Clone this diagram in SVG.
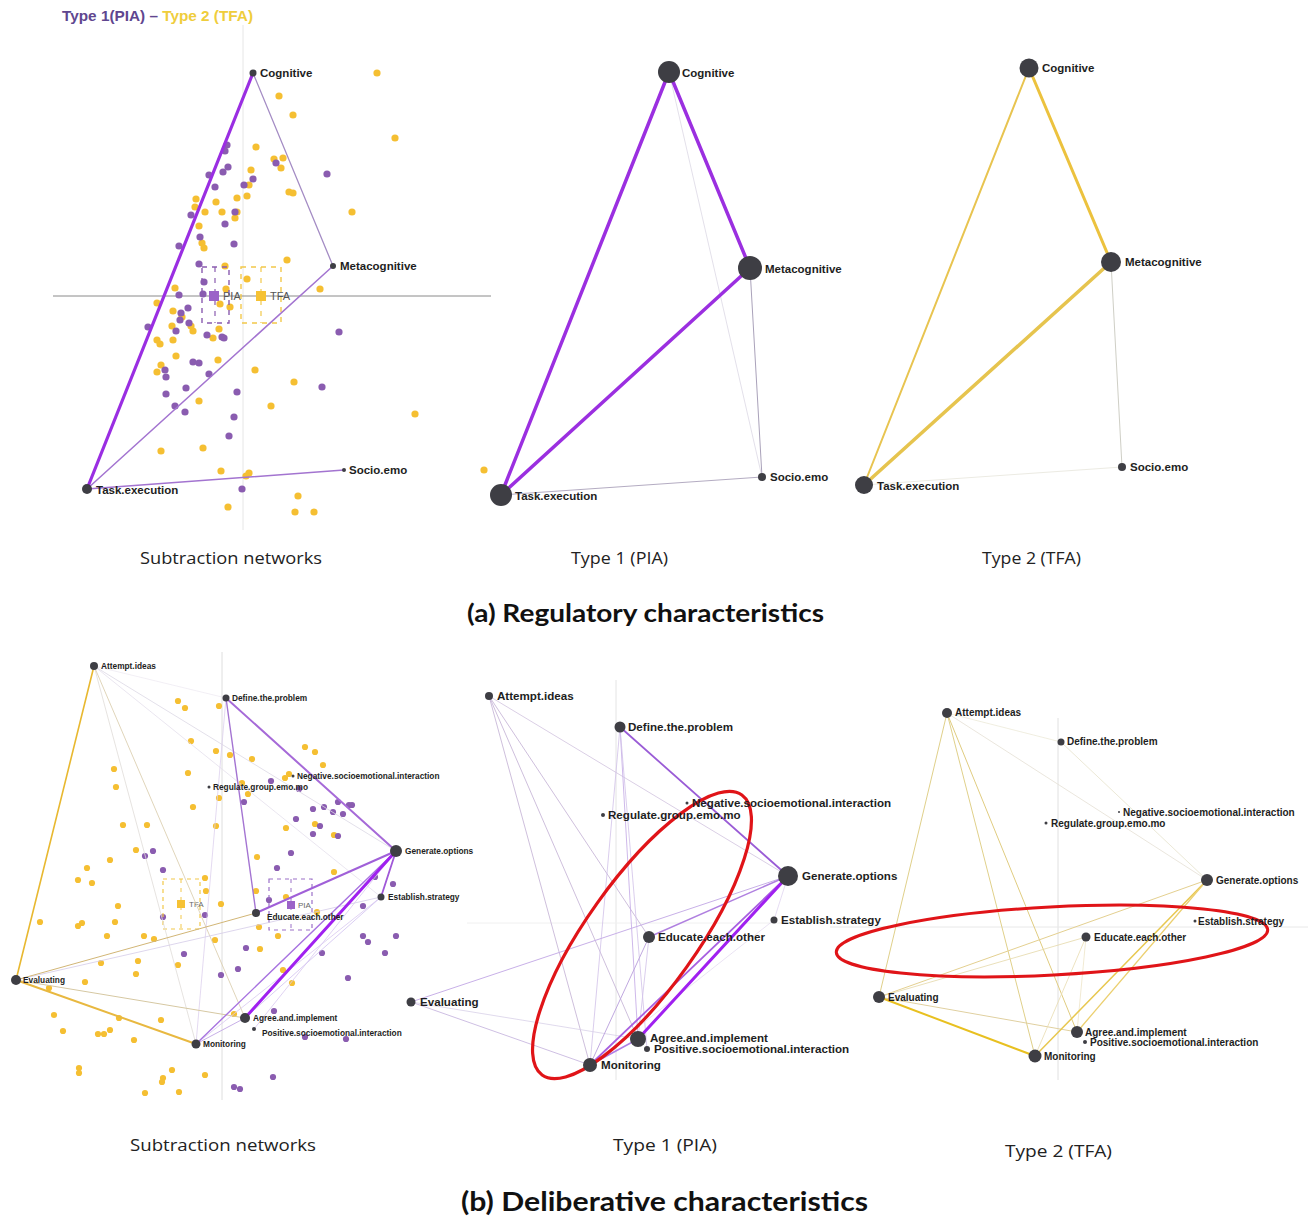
<svg xmlns="http://www.w3.org/2000/svg" width="1308" height="1220" viewBox="0 0 1308 1220">
<style>
.n{fill:#3e3e44}
.l{font-family:"Liberation Sans",Arial,sans-serif;font-weight:bold;fill:#1e1e22}
.la{font-size:11.5px}
.lb{font-size:8.3px}
.lc{font-size:11.6px}
.ld{font-size:10px}
.cap{font-family:"Open Sans","Liberation Sans",sans-serif;fill:#222;font-size:17px}
.ttl{font-family:"Lato","Open Sans",sans-serif;font-weight:bold;fill:#111}
.py{fill:#f5bf32}
.pp{fill:#8a5cb0}
.ax{stroke-width:1;fill:none}
.e{fill:none;stroke-linecap:round}
.red{fill:none;stroke:#e01418}
</style>
<rect width="1308" height="1220" fill="#ffffff"/>

<!-- legend -->
<text x="62" y="21" font-family="Liberation Sans,Arial,sans-serif" font-weight="bold" font-size="15.5" fill="#60468f" textLength="191" lengthAdjust="spacingAndGlyphs">Type 1(PIA) – <tspan fill="#efcd3c">Type 2 (TFA)</tspan></text>

<!-- axes -->
<g id="axes">
<line class="ax" x1="243" y1="25" x2="243" y2="530" stroke="#e6e6e6"/>
<line class="ax" x1="53" y1="296" x2="491" y2="296" stroke="#8a8a8a"/>
<line class="ax" x1="222" y1="652" x2="222" y2="1100" stroke="#dedede"/>
<line class="ax" x1="616" y1="680" x2="616" y2="1080" stroke="#e4e4e4"/>
<line class="ax" x1="467" y1="923" x2="790" y2="923" stroke="#f0f0f0"/>
<line class="ax" x1="1058" y1="718" x2="1058" y2="1080" stroke="#e0e0e0"/>
<line class="ax" x1="830" y1="927" x2="1308" y2="927" stroke="#e8e8e8"/>
</g>

<!-- scatter points (a) -->
<g id="points-a">
<g class="py">
<circle cx="377" cy="73" r="3.6"/><circle cx="279" cy="96" r="3.6"/><circle cx="293" cy="115" r="3.6"/><circle cx="395" cy="138" r="3.6"/><circle cx="256" cy="147" r="3.6"/><circle cx="283" cy="158" r="3.6"/><circle cx="274" cy="159" r="3.6"/><circle cx="281" cy="168" r="3.6"/><circle cx="251" cy="170" r="3.6"/><circle cx="249" cy="185" r="3.6"/><circle cx="247" cy="196" r="3.6"/><circle cx="237" cy="198" r="3.6"/><circle cx="289" cy="192" r="3.6"/><circle cx="293" cy="193" r="3.6"/><circle cx="196" cy="199" r="3.6"/><circle cx="216" cy="202" r="3.6"/><circle cx="195" cy="207" r="3.6"/><circle cx="205" cy="212" r="3.6"/><circle cx="222" cy="212" r="3.6"/><circle cx="237" cy="212" r="3.6"/><circle cx="235" cy="218" r="3.6"/><circle cx="352" cy="212" r="3.6"/><circle cx="199" cy="226" r="3.6"/><circle cx="202" cy="243" r="3.6"/><circle cx="204" cy="248" r="3.6"/><circle cx="287" cy="260" r="3.6"/><circle cx="225" cy="266" r="3.6"/><circle cx="247" cy="279" r="3.6"/><circle cx="320" cy="289" r="3.6"/><circle cx="175" cy="288" r="3.6"/><circle cx="226" cy="289" r="3.6"/><circle cx="220" cy="304" r="3.6"/><circle cx="230" cy="307" r="3.6"/><circle cx="157" cy="303" r="3.6"/><circle cx="173" cy="311" r="3.6"/><circle cx="182" cy="317" r="3.6"/><circle cx="172" cy="326" r="3.6"/><circle cx="191" cy="326" r="3.6"/><circle cx="193" cy="331" r="3.6"/><circle cx="219" cy="329" r="3.6"/><circle cx="213" cy="338" r="3.6"/><circle cx="157" cy="340" r="3.6"/><circle cx="160" cy="344" r="3.6"/><circle cx="173" cy="340" r="3.6"/><circle cx="176" cy="356" r="3.6"/><circle cx="218" cy="360" r="3.6"/><circle cx="161" cy="365" r="3.6"/><circle cx="157" cy="372" r="3.6"/><circle cx="255" cy="370" r="3.6"/><circle cx="294" cy="382" r="3.6"/><circle cx="199" cy="401" r="3.6"/><circle cx="271" cy="406" r="3.6"/><circle cx="415" cy="414" r="3.6"/><circle cx="161" cy="451" r="3.6"/><circle cx="203" cy="448" r="3.6"/><circle cx="221" cy="471" r="3.6"/><circle cx="249" cy="473" r="3.6"/><circle cx="246" cy="476" r="3.6"/><circle cx="484" cy="470" r="3.6"/><circle cx="298" cy="496" r="3.6"/><circle cx="228" cy="507" r="3.6"/><circle cx="295" cy="512" r="3.6"/><circle cx="314" cy="512" r="3.6"/>
</g>
<g class="pp">
<circle cx="227" cy="145" r="3.6"/><circle cx="225" cy="151" r="3.6"/><circle cx="228" cy="167" r="3.6"/><circle cx="223" cy="172" r="3.6"/><circle cx="209" cy="175" r="3.6"/><circle cx="276" cy="163" r="3.6"/><circle cx="327" cy="174" r="3.6"/><circle cx="253" cy="179" r="3.6"/><circle cx="244" cy="185" r="3.6"/><circle cx="215" cy="187" r="3.6"/><circle cx="235" cy="212" r="3.6"/><circle cx="191" cy="215" r="3.6"/><circle cx="225" cy="224" r="3.6"/><circle cx="200" cy="237" r="3.6"/><circle cx="234" cy="244" r="3.6"/><circle cx="179" cy="246" r="3.6"/><circle cx="199" cy="264" r="3.6"/><circle cx="204" cy="282" r="3.6"/><circle cx="179" cy="295" r="3.6"/><circle cx="203" cy="294" r="3.6"/><circle cx="188" cy="308" r="3.6"/><circle cx="181" cy="313" r="3.6"/><circle cx="180" cy="320" r="3.6"/><circle cx="189" cy="323" r="3.6"/><circle cx="148" cy="327" r="3.6"/><circle cx="176" cy="331" r="3.6"/><circle cx="207" cy="335" r="3.6"/><circle cx="222" cy="337" r="3.6"/><circle cx="224" cy="338" r="3.6"/><circle cx="339" cy="332" r="3.6"/><circle cx="193" cy="362" r="3.6"/><circle cx="199" cy="363" r="3.6"/><circle cx="165" cy="370" r="3.6"/><circle cx="166" cy="377" r="3.6"/><circle cx="209" cy="374" r="3.6"/><circle cx="186" cy="388" r="3.6"/><circle cx="322" cy="387" r="3.6"/><circle cx="166" cy="394" r="3.6"/><circle cx="237" cy="392" r="3.6"/><circle cx="175" cy="406" r="3.6"/><circle cx="185" cy="412" r="3.6"/><circle cx="234" cy="417" r="3.6"/><circle cx="229" cy="436" r="3.6"/><circle cx="242" cy="489" r="3.6"/>
</g>
<g id="means-a">
<rect x="202" y="267" width="27" height="56" fill="none" stroke="#8a5cb0" stroke-width="1.4" stroke-dasharray="5 5"/>
<line x1="215" y1="267" x2="215" y2="323" stroke="#8a5cb0" stroke-width="1.2" stroke-dasharray="5 6"/>
<rect x="209" y="291" width="10" height="10" fill="#9b63c8"/>
<text x="223" y="300" font-family="Liberation Sans,Arial,sans-serif" font-size="11" fill="#555">PIA</text>
<rect x="241" y="267" width="40" height="56" fill="none" stroke="#f2c84a" stroke-width="1.4" stroke-dasharray="5 5"/>
<line x1="261" y1="267" x2="261" y2="323" stroke="#f2c84a" stroke-width="1.2" stroke-dasharray="5 6"/>
<rect x="256" y="291" width="10" height="10" fill="#f6c234"/>
<text x="270" y="300" font-family="Liberation Sans,Arial,sans-serif" font-size="11" fill="#555">TFA</text>
</g>
</g>

<!-- scatter points (b) -->
<g id="points-b">
<g class="py">
<circle cx="178" cy="701" r="3.1"/><circle cx="185" cy="708" r="3.1"/><circle cx="219" cy="706" r="3.1"/><circle cx="191" cy="741" r="3.1"/><circle cx="216" cy="751" r="3.1"/><circle cx="230" cy="755" r="3.1"/><circle cx="252" cy="759" r="3.1"/><circle cx="305" cy="747" r="3.1"/><circle cx="315" cy="752" r="3.1"/><circle cx="323" cy="765" r="3.1"/><circle cx="114" cy="769" r="3.1"/><circle cx="116" cy="787" r="3.1"/><circle cx="188" cy="773" r="3.1"/><circle cx="285" cy="778" r="3.1"/><circle cx="289" cy="774" r="3.1"/><circle cx="242" cy="783" r="3.1"/><circle cx="248" cy="794" r="3.1"/><circle cx="219" cy="798" r="3.1"/><circle cx="193" cy="807" r="3.1"/><circle cx="123" cy="825" r="3.1"/><circle cx="147" cy="825" r="3.1"/><circle cx="216" cy="826" r="3.1"/><circle cx="286" cy="828" r="3.1"/><circle cx="315" cy="824" r="3.1"/><circle cx="334" cy="835" r="3.1"/><circle cx="136" cy="850" r="3.1"/><circle cx="110" cy="860" r="3.1"/><circle cx="87" cy="868" r="3.1"/><circle cx="78" cy="880" r="3.1"/><circle cx="92" cy="883" r="3.1"/><circle cx="257" cy="857" r="3.1"/><circle cx="334" cy="872" r="3.1"/><circle cx="205" cy="878" r="3.1"/><circle cx="206" cy="891" r="3.1"/><circle cx="221" cy="904" r="3.1"/><circle cx="256" cy="891" r="3.1"/><circle cx="286" cy="897" r="3.1"/><circle cx="118" cy="906" r="3.1"/><circle cx="40" cy="922" r="3.1"/><circle cx="78" cy="926" r="3.1"/><circle cx="82" cy="923" r="3.1"/><circle cx="115" cy="922" r="3.1"/><circle cx="259" cy="927" r="3.1"/><circle cx="107" cy="936" r="3.1"/><circle cx="144" cy="936" r="3.1"/><circle cx="154" cy="939" r="3.1"/><circle cx="215" cy="940" r="3.1"/><circle cx="260" cy="949" r="3.1"/><circle cx="278" cy="936" r="3.1"/><circle cx="317" cy="912" r="3.1"/><circle cx="101" cy="963" r="3.1"/><circle cx="138" cy="961" r="3.1"/><circle cx="178" cy="965" r="3.1"/><circle cx="136" cy="974" r="3.1"/><circle cx="85" cy="982" r="3.1"/><circle cx="283" cy="970" r="3.1"/><circle cx="292" cy="983" r="3.1"/><circle cx="49" cy="988" r="3.1"/><circle cx="54" cy="1015" r="3.1"/><circle cx="119" cy="1018" r="3.1"/><circle cx="161" cy="1020" r="3.1"/><circle cx="234" cy="1014" r="3.1"/><circle cx="63" cy="1031" r="3.1"/><circle cx="98" cy="1034" r="3.1"/><circle cx="104" cy="1034" r="3.1"/><circle cx="110" cy="1030" r="3.1"/><circle cx="134" cy="1040" r="3.1"/><circle cx="79" cy="1068" r="3.1"/><circle cx="79" cy="1073" r="3.1"/><circle cx="172" cy="1070" r="3.1"/><circle cx="163" cy="1078" r="3.1"/><circle cx="162" cy="1082" r="3.1"/><circle cx="205" cy="1075" r="3.1"/><circle cx="145" cy="1093" r="3.1"/><circle cx="179" cy="1092" r="3.1"/>
</g>
<g class="pp">
<circle cx="271" cy="781" r="3.1"/><circle cx="299" cy="789" r="3.1"/><circle cx="244" cy="802" r="3.1"/><circle cx="313" cy="809" r="3.1"/><circle cx="324" cy="807" r="3.1"/><circle cx="338" cy="802" r="3.1"/><circle cx="333" cy="812" r="3.1"/><circle cx="343" cy="814" r="3.1"/><circle cx="349" cy="805" r="3.1"/><circle cx="352" cy="805" r="3.1"/><circle cx="296" cy="819" r="3.1"/><circle cx="320" cy="826" r="3.1"/><circle cx="313" cy="834" r="3.1"/><circle cx="338" cy="836" r="3.1"/><circle cx="291" cy="853" r="3.1"/><circle cx="277" cy="868" r="3.1"/><circle cx="145" cy="856" r="3.1"/><circle cx="153" cy="851" r="3.1"/><circle cx="163" cy="870" r="3.1"/><circle cx="375" cy="877" r="3.1"/><circle cx="393" cy="884" r="3.1"/><circle cx="269" cy="900" r="3.1"/><circle cx="363" cy="906" r="3.1"/><circle cx="163" cy="917" r="3.1"/><circle cx="205" cy="915" r="3.1"/><circle cx="363" cy="936" r="3.1"/><circle cx="368" cy="942" r="3.1"/><circle cx="396" cy="936" r="3.1"/><circle cx="246" cy="948" r="3.1"/><circle cx="184" cy="954" r="3.1"/><circle cx="322" cy="953" r="3.1"/><circle cx="385" cy="953" r="3.1"/><circle cx="238" cy="969" r="3.1"/><circle cx="221" cy="975" r="3.1"/><circle cx="348" cy="978" r="3.1"/><circle cx="274" cy="1011" r="3.1"/><circle cx="305" cy="1037" r="3.1"/><circle cx="346" cy="1039" r="3.1"/><circle cx="273" cy="1077" r="3.1"/><circle cx="234" cy="1087" r="3.1"/><circle cx="240" cy="1089" r="3.1"/>
</g>
<g id="means-b">
<rect x="163" y="879" width="37" height="50" fill="none" stroke="#f2c84a" stroke-width="1.2" stroke-dasharray="4 4"/>
<line x1="181" y1="879" x2="181" y2="929" stroke="#f2c84a" stroke-width="1" stroke-dasharray="4 5"/>
<rect x="177" y="900" width="8" height="8" fill="#f6c234"/>
<text x="189" y="907" font-family="Liberation Sans,Arial,sans-serif" font-size="8" fill="#666">TFA</text>
<rect x="269" y="879" width="43" height="51" fill="none" stroke="#9b70c8" stroke-width="1.2" stroke-dasharray="4 4"/>
<line x1="291" y1="879" x2="291" y2="930" stroke="#9b70c8" stroke-width="1" stroke-dasharray="4 5"/>
<rect x="287" y="901" width="8" height="8" fill="#9b63c8"/>
<text x="298" y="908" font-family="Liberation Sans,Arial,sans-serif" font-size="8" fill="#666">PIA</text>
</g>
</g>

<!-- connectors -->
<g id="connectors">
<!-- (a) subtraction -->
<line class="e" x1="253" y1="73" x2="333" y2="266" stroke="#a48cc4" stroke-width="1.3"/>
<line class="e" x1="333" y1="266" x2="87" y2="489" stroke="#a374d0" stroke-width="1.5"/>
<line class="e" x1="87" y1="489" x2="344" y2="470" stroke="#a374d0" stroke-width="1.5"/>
<line class="e" x1="253" y1="73" x2="87" y2="489" stroke="#9a2ee2" stroke-width="3.2"/>
<!-- (a) type 1 -->
<line class="e" x1="669" y1="72" x2="762" y2="477" stroke="#dcd8e4" stroke-width="0.8"/>
<line class="e" x1="750" y1="268" x2="762" y2="477" stroke="#aaa2ba" stroke-width="1"/>
<line class="e" x1="501" y1="495" x2="762" y2="477" stroke="#b4acc2" stroke-width="1"/>
<line class="e" x1="669" y1="72" x2="501" y2="495" stroke="#9b2fe0" stroke-width="3.5"/>
<line class="e" x1="669" y1="72" x2="750" y2="268" stroke="#9b2fe0" stroke-width="3.5"/>
<line class="e" x1="750" y1="268" x2="501" y2="495" stroke="#9b2fe0" stroke-width="3.5"/>
<!-- (a) type 2 -->
<line class="e" x1="1111" y1="262" x2="1122" y2="467" stroke="#cfcfc6" stroke-width="1"/>
<line class="e" x1="864" y1="485" x2="1122" y2="467" stroke="#ecebe3" stroke-width="1"/>
<line class="e" x1="1029" y1="68" x2="864" y2="485" stroke="#e8c450" stroke-width="2"/>
<line class="e" x1="1029" y1="68" x2="1111" y2="262" stroke="#ecc23e" stroke-width="3"/>
<line class="e" x1="1111" y1="262" x2="864" y2="485" stroke="#e6c44e" stroke-width="3.5"/>

<!-- (b) subtraction -->
<line class="e" x1="94" y1="666" x2="226" y2="698" stroke="#ece8f0" stroke-width="0.7"/>
<line class="e" x1="94" y1="666" x2="381" y2="897" stroke="#e4e0ec" stroke-width="0.8"/>
<line class="e" x1="94" y1="666" x2="396" y2="851" stroke="#dcd8e4" stroke-width="0.8"/>
<line class="e" x1="94" y1="666" x2="196" y2="1044" stroke="#e0dcd8" stroke-width="0.8"/>
<line class="e" x1="94" y1="666" x2="245" y2="1018" stroke="#d8caa8" stroke-width="0.8"/>
<line class="e" x1="226" y1="698" x2="196" y2="1044" stroke="#ddd0ee" stroke-width="0.8"/>
<line class="e" x1="16" y1="980" x2="381" y2="897" stroke="#d4cce8" stroke-width="0.8"/>
<line class="e" x1="16" y1="980" x2="245" y2="1018" stroke="#d6c8a2" stroke-width="1"/>
<line class="e" x1="16" y1="980" x2="256" y2="913" stroke="#d2b676" stroke-width="1"/>
<line class="e" x1="396" y1="851" x2="254" y2="1029" stroke="#d8c8f0" stroke-width="0.8"/>
<line class="e" x1="381" y1="897" x2="196" y2="1044" stroke="#d8c8f0" stroke-width="0.8"/>
<line class="e" x1="381" y1="897" x2="245" y2="1018" stroke="#d0c0f0" stroke-width="0.8"/>
<line class="e" x1="245" y1="1018" x2="196" y2="1044" stroke="#c8b0e8" stroke-width="1"/>
<line class="e" x1="94" y1="666" x2="16" y2="980" stroke="#e8b830" stroke-width="1.6"/>
<line class="e" x1="16" y1="980" x2="196" y2="1044" stroke="#e8b840" stroke-width="2"/>
<line class="e" x1="226" y1="698" x2="396" y2="851" stroke="#a66ad8" stroke-width="2"/>
<line class="e" x1="226" y1="698" x2="256" y2="913" stroke="#a474d2" stroke-width="1.4"/>
<line class="e" x1="396" y1="851" x2="256" y2="913" stroke="#a060d8" stroke-width="2"/>
<line class="e" x1="396" y1="851" x2="196" y2="1044" stroke="#a874e0" stroke-width="1.4"/>
<line class="e" x1="396" y1="851" x2="381" y2="897" stroke="#a058d8" stroke-width="1.8"/>
<line class="e" x1="396" y1="851" x2="245" y2="1018" stroke="#a020f0" stroke-width="3"/>

<!-- (b) type 1 -->
<line class="e" x1="489" y1="696" x2="788" y2="876" stroke="#d6cae2" stroke-width="0.9"/>
<line class="e" x1="489" y1="696" x2="590" y2="1065" stroke="#c8b8d8" stroke-width="0.9"/>
<line class="e" x1="489" y1="696" x2="638" y2="1039" stroke="#c8b8d8" stroke-width="0.9"/>
<line class="e" x1="489" y1="696" x2="649" y2="937" stroke="#c8b8d8" stroke-width="0.9"/>
<line class="e" x1="620" y1="727" x2="590" y2="1065" stroke="#d0c0e8" stroke-width="0.8"/>
<line class="e" x1="620" y1="727" x2="638" y2="1039" stroke="#c8b0e8" stroke-width="0.9"/>
<line class="e" x1="620" y1="727" x2="647" y2="1049" stroke="#d0c0e8" stroke-width="0.8"/>
<line class="e" x1="788" y1="876" x2="774" y2="920" stroke="#e0d4f0" stroke-width="0.8"/>
<line class="e" x1="774" y1="920" x2="590" y2="1065" stroke="#e4dcf0" stroke-width="0.8"/>
<line class="e" x1="411" y1="1002" x2="590" y2="1065" stroke="#c8b8e0" stroke-width="0.9"/>
<line class="e" x1="411" y1="1002" x2="638" y2="1039" stroke="#d8d0e8" stroke-width="0.8"/>
<line class="e" x1="649" y1="937" x2="590" y2="1065" stroke="#c0a8e0" stroke-width="1"/>
<line class="e" x1="649" y1="937" x2="638" y2="1039" stroke="#d0c0e8" stroke-width="0.8"/>
<line class="e" x1="788" y1="876" x2="411" y2="1002" stroke="#c8b0e8" stroke-width="1"/>
<line class="e" x1="638" y1="1039" x2="590" y2="1065" stroke="#b080e8" stroke-width="1.5"/>
<line class="e" x1="620" y1="727" x2="788" y2="876" stroke="#9a5cd6" stroke-width="1.8"/>
<line class="e" x1="788" y1="876" x2="649" y2="937" stroke="#b080e0" stroke-width="1.5"/>
<line class="e" x1="788" y1="876" x2="590" y2="1065" stroke="#a860e0" stroke-width="1.8"/>
<line class="e" x1="788" y1="876" x2="638" y2="1039" stroke="#a020f0" stroke-width="3"/>

<!-- (b) type 2 -->
<line class="e" x1="947" y1="713" x2="1061" y2="742" stroke="#ecead8" stroke-width="0.8"/>
<line class="e" x1="947" y1="713" x2="1207" y2="880" stroke="#e4e0d4" stroke-width="0.8"/>
<line class="e" x1="1061" y1="742" x2="1207" y2="880" stroke="#e6e2cc" stroke-width="0.8"/>
<line class="e" x1="947" y1="713" x2="879" y2="997" stroke="#e0d08a" stroke-width="1"/>
<line class="e" x1="947" y1="713" x2="1035" y2="1056" stroke="#e0d08a" stroke-width="1"/>
<line class="e" x1="947" y1="713" x2="1077" y2="1032" stroke="#e0cc80" stroke-width="1"/>
<line class="e" x1="879" y1="997" x2="1077" y2="1032" stroke="#e0d0a0" stroke-width="1"/>
<line class="e" x1="879" y1="997" x2="1207" y2="880" stroke="#e4d090" stroke-width="1"/>
<line class="e" x1="879" y1="997" x2="1086" y2="937" stroke="#e4d8a8" stroke-width="0.8"/>
<line class="e" x1="1086" y1="937" x2="1035" y2="1056" stroke="#e8dcb0" stroke-width="0.8"/>
<line class="e" x1="1086" y1="937" x2="1077" y2="1032" stroke="#eee4c8" stroke-width="0.8"/>
<line class="e" x1="1207" y1="880" x2="1035" y2="1056" stroke="#e8c850" stroke-width="1.5"/>
<line class="e" x1="1207" y1="880" x2="1077" y2="1032" stroke="#ecd070" stroke-width="1.3"/>
<line class="e" x1="879" y1="997" x2="1035" y2="1056" stroke="#e8c020" stroke-width="2"/>
</g>

<!-- highlight ellipses -->
<g id="highlights">
<ellipse class="red" cx="642" cy="935" rx="172" ry="55" transform="rotate(-54.5 642 935)" stroke-width="3.2"/>
<ellipse class="red" cx="1052" cy="941" rx="216" ry="34" transform="rotate(-3 1052 941)" stroke-width="3"/>
</g>

<!-- nodes (a) subtraction -->
<g id="a-sub-cognitive"><circle class="n" cx="253" cy="73" r="3.5"/><text class="l la" x="260" y="77">Cognitive</text></g>
<g id="a-sub-metacognitive"><circle class="n" cx="333" cy="266" r="3"/><text class="l la" x="340" y="270">Metacognitive</text></g>
<g id="a-sub-socioemo"><circle class="n" cx="344" cy="470" r="2"/><text class="l la" x="349" y="474">Socio.emo</text></g>
<g id="a-sub-task"><circle class="n" cx="87" cy="489" r="5"/><text class="l la" x="96" y="494">Task.execution</text></g>

<!-- nodes (a) type 1 -->
<g id="a-t1-cognitive"><circle class="n" cx="669" cy="72" r="11"/><text class="l la" x="682" y="77">Cognitive</text></g>
<g id="a-t1-metacognitive"><circle class="n" cx="750" cy="268" r="12"/><text class="l la" x="765" y="273">Metacognitive</text></g>
<g id="a-t1-socioemo"><circle class="n" cx="762" cy="477" r="4"/><text class="l la" x="770" y="481">Socio.emo</text></g>
<g id="a-t1-task"><circle class="n" cx="501" cy="495" r="11"/><text class="l la" x="515" y="500">Task.execution</text></g>

<!-- nodes (a) type 2 -->
<g id="a-t2-cognitive"><circle class="n" cx="1029" cy="68" r="9.5"/><text class="l la" x="1042" y="72">Cognitive</text></g>
<g id="a-t2-metacognitive"><circle class="n" cx="1111" cy="262" r="10"/><text class="l la" x="1125" y="266">Metacognitive</text></g>
<g id="a-t2-socioemo"><circle class="n" cx="1122" cy="467" r="4"/><text class="l la" x="1130" y="471">Socio.emo</text></g>
<g id="a-t2-task"><circle class="n" cx="864" cy="485" r="9"/><text class="l la" x="877" y="490">Task.execution</text></g>

<!-- nodes (b) subtraction -->
<g id="b-sub-attempt"><circle class="n" cx="94" cy="666" r="4"/><text class="l lb" x="101" y="669">Attempt.ideas</text></g>
<g id="b-sub-define"><circle class="n" cx="226" cy="698" r="3.5"/><text class="l lb" x="232" y="701">Define.the.problem</text></g>
<g id="b-sub-negative"><circle class="n" cx="293" cy="776" r="1.5"/><text class="l lb" x="297" y="779">Negative.socioemotional.interaction</text></g>
<g id="b-sub-regulate"><circle class="n" cx="209" cy="787" r="1.5"/><text class="l lb" x="213" y="790">Regulate.group.emo.mo</text></g>
<g id="b-sub-generate"><circle class="n" cx="396" cy="851" r="6"/><text class="l lb" x="405" y="854">Generate.options</text></g>
<g id="b-sub-establish"><circle class="n" cx="381" cy="897" r="3.5"/><text class="l lb" x="388" y="900">Establish.strategy</text></g>
<g id="b-sub-educate"><circle class="n" cx="256" cy="913" r="4"/><text class="l lb" x="267" y="920">Educate.each.other</text></g>
<g id="b-sub-evaluating"><circle class="n" cx="16" cy="980" r="5"/><text class="l lb" x="23" y="983">Evaluating</text></g>
<g id="b-sub-agree"><circle class="n" cx="245" cy="1018" r="5"/><text class="l lb" x="253" y="1021">Agree.and.implement</text></g>
<g id="b-sub-positive"><circle class="n" cx="254" cy="1029" r="2"/><text class="l lb" x="262" y="1036">Positive.socioemotional.interaction</text></g>
<g id="b-sub-monitoring"><circle class="n" cx="196" cy="1044" r="4.5"/><text class="l lb" x="203" y="1047">Monitoring</text></g>

<!-- nodes (b) type 1 -->
<g id="b-t1-attempt"><circle class="n" cx="489" cy="696" r="4"/><text class="l lc" x="497" y="700">Attempt.ideas</text></g>
<g id="b-t1-define"><circle class="n" cx="620" cy="727" r="5.5"/><text class="l lc" x="628" y="731">Define.the.problem</text></g>
<g id="b-t1-negative"><circle class="n" cx="687" cy="803" r="1.5"/><text class="l lc" x="692" y="807">Negative.socioemotional.interaction</text></g>
<g id="b-t1-regulate"><circle class="n" cx="603" cy="815" r="2"/><text class="l lc" x="608" y="819">Regulate.group.emo.mo</text></g>
<g id="b-t1-generate"><circle class="n" cx="788" cy="876" r="10"/><text class="l lc" x="802" y="880">Generate.options</text></g>
<g id="b-t1-establish"><circle class="n" cx="774" cy="920" r="3.5"/><text class="l lc" x="781" y="924">Establish.strategy</text></g>
<g id="b-t1-educate"><circle class="n" cx="649" cy="937" r="6"/><text class="l lc" x="658" y="941">Educate.each.other</text></g>
<g id="b-t1-evaluating"><circle class="n" cx="411" cy="1002" r="4.5"/><text class="l lc" x="420" y="1006">Evaluating</text></g>
<g id="b-t1-agree"><circle class="n" cx="638" cy="1039" r="8"/><text class="l lc" x="650" y="1042">Agree.and.implement</text></g>
<g id="b-t1-positive"><circle class="n" cx="647" cy="1049" r="3"/><text class="l lc" x="654" y="1053">Positive.socioemotional.interaction</text></g>
<g id="b-t1-monitoring"><circle class="n" cx="590" cy="1065" r="7"/><text class="l lc" x="601" y="1069">Monitoring</text></g>

<!-- nodes (b) type 2 -->
<g id="b-t2-attempt"><circle class="n" cx="947" cy="713" r="5"/><text class="l ld" x="955" y="716">Attempt.ideas</text></g>
<g id="b-t2-define"><circle class="n" cx="1061" cy="742" r="3.5"/><text class="l ld" x="1067" y="745">Define.the.problem</text></g>
<g id="b-t2-negative"><circle class="n" cx="1119" cy="812" r="1"/><text class="l ld" x="1123" y="816">Negative.socioemotional.interaction</text></g>
<g id="b-t2-regulate"><circle class="n" cx="1046" cy="823" r="1.5"/><text class="l ld" x="1051" y="827">Regulate.group.emo.mo</text></g>
<g id="b-t2-generate"><circle class="n" cx="1207" cy="880" r="6"/><text class="l ld" x="1216" y="884">Generate.options</text></g>
<g id="b-t2-establish"><circle class="n" cx="1195" cy="921" r="1.5"/><text class="l ld" x="1198" y="925">Establish.strategy</text></g>
<g id="b-t2-educate"><circle class="n" cx="1086" cy="937" r="4.5"/><text class="l ld" x="1094" y="941">Educate.each.other</text></g>
<g id="b-t2-evaluating"><circle class="n" cx="879" cy="997" r="6"/><text class="l ld" x="888" y="1001">Evaluating</text></g>
<g id="b-t2-agree"><circle class="n" cx="1077" cy="1032" r="6"/><text class="l ld" x="1085" y="1036">Agree.and.implement</text></g>
<g id="b-t2-positive"><circle class="n" cx="1085" cy="1042" r="2"/><text class="l ld" x="1090" y="1046">Positive.socioemotional.interaction</text></g>
<g id="b-t2-monitoring"><circle class="n" cx="1035" cy="1056" r="6.5"/><text class="l ld" x="1044" y="1060">Monitoring</text></g>

<!-- captions -->
<g id="captions">
<text class="cap" x="140" y="564" textLength="182" lengthAdjust="spacingAndGlyphs">Subtraction networks</text>
<text class="cap" x="571" y="564" textLength="97" lengthAdjust="spacingAndGlyphs">Type 1 (PIA)</text>
<text class="cap" x="982" y="564" textLength="99" lengthAdjust="spacingAndGlyphs">Type 2 (TFA)</text>
<text class="ttl" x="467" y="622" font-size="24" textLength="357" lengthAdjust="spacingAndGlyphs">(a) Regulatory characteristics</text>
<text class="cap" x="130" y="1151" textLength="186" lengthAdjust="spacingAndGlyphs">Subtraction networks</text>
<text class="cap" x="613" y="1151" textLength="104" lengthAdjust="spacingAndGlyphs">Type 1 (PIA)</text>
<text class="cap" x="1005" y="1157" textLength="107" lengthAdjust="spacingAndGlyphs">Type 2 (TFA)</text>
<text class="ttl" x="461" y="1211" font-size="26" textLength="407" lengthAdjust="spacingAndGlyphs">(b) Deliberative characteristics</text>
</g>
</svg>
